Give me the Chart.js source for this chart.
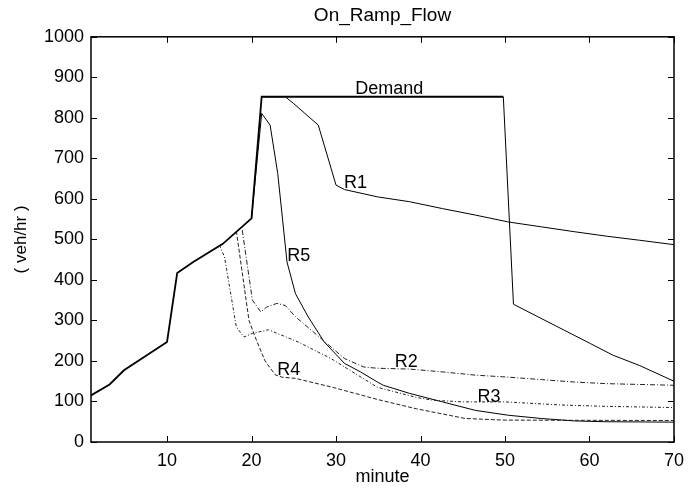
<!DOCTYPE html>
<html>
<head>
<meta charset="utf-8">
<script src="https://cdn.jsdelivr.net/npm/chart.js@4/dist/chart.umd.min.js"></script>
<style>
  html, body { margin: 0; padding: 0; background: #fff; }
  #wrap { width: 692px; height: 492px; }
</style>
</head>
<body>
<div id="wrap"><canvas id="flow" width="692" height="492"></canvas></div>
<script>
// values (minute, veh/hr)
const demandX = [1, 3.2, 4.9, 10, 11.2, 13.1, 16.6, 20, 21.2, 49.8, 51, 53.9, 57, 60.1, 62.8, 65.9, 70]
const demandY = [115, 142, 177, 247, 417, 444, 489, 552, 852, 852, 340, 309, 276, 243, 214, 189, 150]

const r1X = [21.2, 24, 25, 27.9, 30, 31, 34.9, 38.7, 42.6, 46.5, 50.4, 54.3, 58.2, 62, 65.9, 70]
const r1Y = [852, 852, 835, 782, 634, 623, 605, 593, 576, 560, 543, 531, 519, 508, 498, 487]

const r2X = [18.9, 20.1, 21.1, 21.8, 23, 24, 25.2, 27.3, 31, 33.3, 34.9, 38.7, 42.6, 46.5, 50.4, 54.3, 58.2, 62, 70]
const r2Y = [523, 350, 321, 333, 342, 337, 309, 272, 206, 185, 182, 180, 173, 165, 160, 154, 148, 144, 140]

const r3X = [16.2, 16.8, 18.2, 19.1, 20.1, 22, 25.5, 29.4, 34.9, 39.5, 41.5, 45, 50, 57, 62, 70]
const r3Y = [486, 457, 284, 259, 268, 277, 247, 206, 135, 110, 103, 99, 99, 91, 88, 85]

const r4X = [18.2, 19.7, 20.6, 21.6, 22.8, 23.6, 25.2, 29.4, 34.9, 39.5, 45.3, 50, 70]
const r4Y = [521, 300, 250, 200, 166, 160, 157, 136, 105, 82, 58, 54, 53]

const r5X = [20, 21.2, 22.2, 23.1, 24.2, 25.2, 26.7, 28.6, 31, 32.9, 34.9, 35.6, 38.7, 42.6, 46.5, 50.4, 54.3, 58.2, 62, 70]
const r5Y = [552, 811, 782, 663, 444, 366, 309, 247, 194, 173, 148, 140, 120, 99, 78, 66, 58, 52, 50, 49]

const xTicks = [10, 20, 30, 40, 50, 60, 70]
const yTicks = [0, 100, 200, 300, 400, 500, 600, 700, 800, 900, 1000]

// curve names written next to the lines, anchored in data units
const curveNames = ["Demand", "R1", "R2", "R3", "R4", "R5"]
const nameX = [36.3, 32.3, 38.3, 48.1, 24.4, 25.6]
const nameY = [870, 640, 198, 112, 177, 460]

function pts(xs, ys) {
  return xs.map((x, i) => ({x: x, y: ys[i]}))
}

Chart.defaults.color = '#000'
Chart.defaults.font.family = '"Liberation Sans", Arial, Helvetica, sans-serif'

const frame = {
  id: 'frame',
  afterDraw(chart) {
    const ctx = chart.ctx
    const a = chart.chartArea
    const xs = chart.scales.x, ys = chart.scales.y
    ctx.save()
    ctx.strokeStyle = '#000'
    ctx.lineWidth = 1.5
    ctx.strokeRect(a.left, a.top, a.right - a.left, a.bottom - a.top)
    ctx.lineWidth = 1
    ctx.beginPath()
    xTicks.forEach(v => {
      const px = Math.round(xs.getPixelForValue(v)) + 0.5
      ctx.moveTo(px, a.bottom); ctx.lineTo(px, a.bottom - 6)
      ctx.moveTo(px, a.top); ctx.lineTo(px, a.top + 6)
    })
    yTicks.forEach(v => {
      const py = Math.round(ys.getPixelForValue(v)) + 0.5
      ctx.moveTo(a.left, py); ctx.lineTo(a.left + 6, py)
      ctx.moveTo(a.right, py); ctx.lineTo(a.right - 6, py)
    })
    ctx.stroke()
    // curve names
    ctx.fillStyle = '#000'
    ctx.font = '18px "Liberation Sans", Arial, sans-serif'
    ctx.textAlign = 'center'
    ctx.textBaseline = 'middle'
    curveNames.forEach((t, i) => {
      ctx.fillText(t, xs.getPixelForValue(nameX[i]), ys.getPixelForValue(nameY[i]))
    })
    ctx.restore()
  }
}

new Chart(document.getElementById('flow'), {
  type: 'line',
  data: {
    datasets: [
      {label: 'Demand', data: pts(demandX, demandY), borderColor: '#000', borderWidth: 1.8,
        segment: {borderWidth: c => c.p0.parsed.x >= 49 ? 1 : 1.8}},
      {label: 'R1', data: pts(r1X, r1Y), borderColor: '#000', borderWidth: 1},
      {label: 'R2', data: pts(r2X, r2Y), borderColor: '#222', borderWidth: 1, borderDash: [5, 2, 1, 2]},
      {label: 'R3', data: pts(r3X, r3Y), borderColor: '#222', borderWidth: 1, borderDash: [3, 2, 1, 2]},
      {label: 'R4', data: pts(r4X, r4Y), borderColor: '#222', borderWidth: 1, borderDash: [4, 2]},
      {label: 'R5', data: pts(r5X, r5Y), borderColor: '#000', borderWidth: 1}
    ]
  },
  options: {
    responsive: false,
    animation: false,
    elements: {point: {radius: 0}, line: {tension: 0, fill: false}},
    layout: {padding: {left: 0, right: 12, top: 0, bottom: 0}},
    plugins: {
      legend: {display: false},
      tooltip: {enabled: false},
      title: {
        display: true,
        text: 'On_Ramp_Flow',
        fullSize: false,
        color: '#000',
        font: {size: 19, weight: 'normal'},
        padding: {top: 4, bottom: 10}
      }
    },
    scales: {
      x: {
        type: 'linear',
        min: 1,
        max: 70,
        grid: {display: false, drawTicks: false},
        border: {display: false},
        afterBuildTicks: s => { s.ticks = xTicks.map(v => ({value: v})) },
        afterFit: s => { s.height = 50 },
        ticks: {font: {size: 18}, padding: 8, maxRotation: 0, callback: v => String(v)},
        title: {display: true, text: 'minute', font: {size: 18}, padding: {top: 0, bottom: 4}}
      },
      y: {
        type: 'linear',
        min: 0,
        max: 1000,
        grid: {display: false, drawTicks: false},
        border: {display: false},
        afterBuildTicks: s => { s.ticks = yTicks.map(v => ({value: v})) },
        afterFit: s => { s.width = 91 },
        ticks: {font: {size: 18}, padding: 7, callback: v => String(v)},
        title: {display: true, text: '( veh/hr )', font: {size: 17}, padding: {top: 11, bottom: 0}}
      }
    }
  },
  plugins: [frame]
})
</script>
</body>
</html>
